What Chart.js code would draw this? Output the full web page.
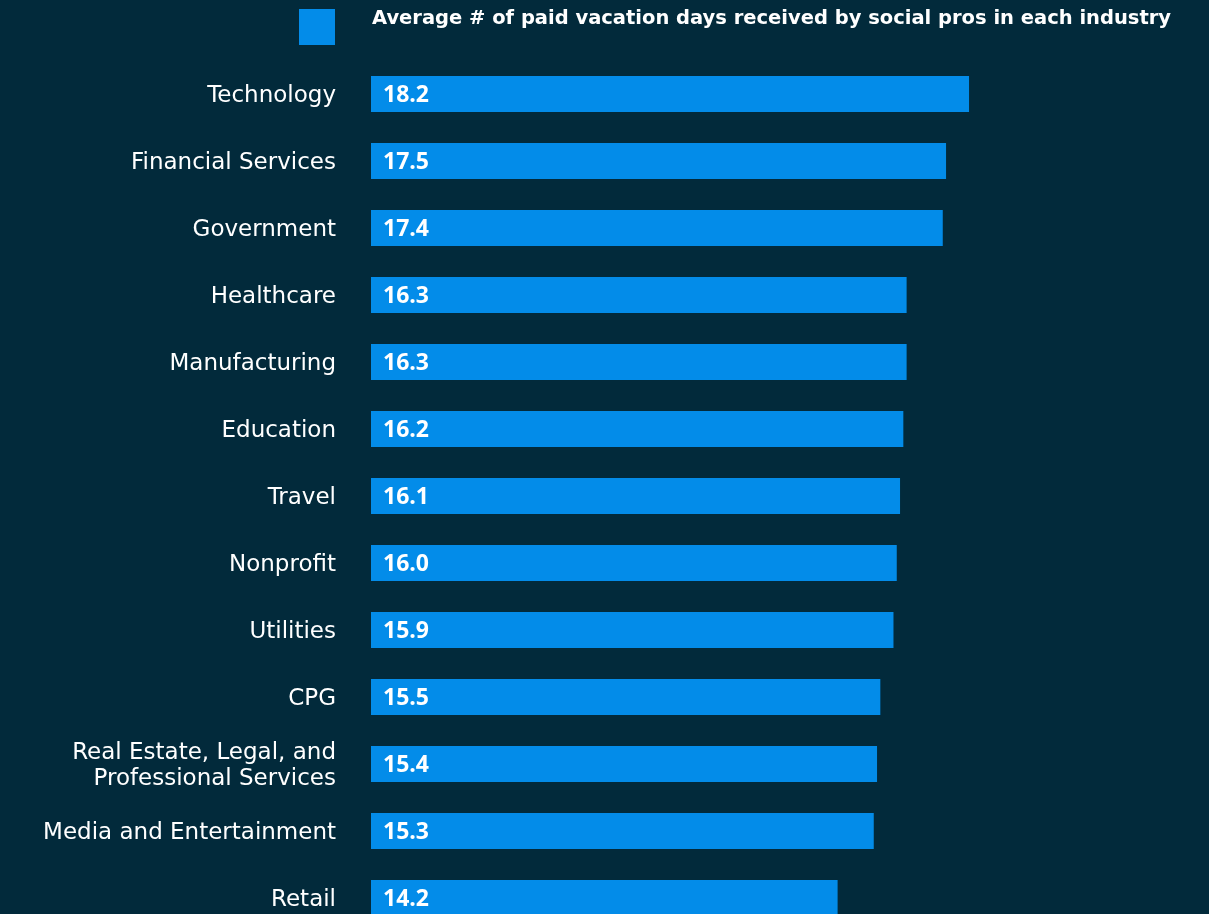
<!DOCTYPE html>
<html>
<head>
<meta charset="utf-8">
<script src="https://cdn.jsdelivr.net/npm/chart.js@4.4.1/dist/chart.umd.min.js"></script>
<style>
    html, body { margin: 0; padding: 0; background: #022a3b; overflow: hidden; }
    canvas { display: block; }
</style>
</head>
<body>
<canvas id="vacation-days-chart" width="1209" height="980"></canvas>
<script>
let industries = [
    'Technology', 'Financial Services', 'Government', 'Healthcare', 'Manufacturing',
    'Education', 'Travel', 'Nonprofit', 'Utilities', 'CPG',
    ['Real Estate, Legal, and', 'Professional Services'],
    'Media and Entertainment', 'Retail'
];
let vacationDays = [18.2, 17.5, 17.4, 16.3, 16.3, 16.2, 16.1, 16.0, 15.9, 15.5, 15.4, 15.3, 14.2];
let seriesLabel = 'Average # of paid vacation days received by social pros in each industry';

let barColor = '#038ce9';
let labelFont = '"DejaVu Sans", sans-serif';
let valueFont = '"Open Sans", sans-serif';

// value text inside the left end of each bar
let valueLabels = {
    id: 'valueLabels',
    afterDatasetsDraw: function (chart) {
        let ctx = chart.ctx;
        let meta = chart.getDatasetMeta(0);
        ctx.save();
        ctx.fillStyle = '#ffffff';
        ctx.font = 'bold 23px ' + valueFont;
        ctx.textAlign = 'left';
        ctx.textBaseline = 'middle';
        meta.data.forEach((bar, i) => {
            ctx.fillText(chart.data.datasets[0].data[i].toFixed(1), bar.base + 12, bar.y + 1);
        });
        ctx.restore();
    }
};

// legend box + caption above the bars
let topLegend = {
    id: 'topLegend',
    afterDraw: function (chart) {
        let ctx = chart.ctx;
        let left = chart.chartArea.left;
        ctx.save();
        ctx.fillStyle = chart.data.datasets[0].backgroundColor;
        ctx.fillRect(left - 72, 9, 36, 36);
        ctx.fillStyle = '#ffffff';
        ctx.font = 'bold 19.5px ' + labelFont;
        ctx.textAlign = 'left';
        ctx.textBaseline = 'middle';
        ctx.fillText(chart.data.datasets[0].label, left + 1, 19);
        ctx.restore();
    }
};

let canvas = document.getElementById('vacation-days-chart');
let context = canvas.getContext('2d');
let config = {
    type: 'bar',
    data: {
        labels: industries,
        datasets: [
            {
                label: seriesLabel,
                data: vacationDays,
                backgroundColor: barColor,
                barPercentage: 0.537,
                categoryPercentage: 1
            }
        ]
    },
    options: {
        indexAxis: 'y',
        responsive: false,
        animation: false,
        layout: {
            padding: { top: 60.5, bottom: 48.5, left: 0, right: 16.5 }
        },
        scales: {
            x: {
                display: false,
                min: 0,
                max: 25
            },
            y: {
                grid: { display: false, drawTicks: false },
                border: { display: false },
                ticks: {
                    color: '#ffffff',
                    padding: 35,
                    labelOffset: 2,
                    font: { family: labelFont, size: 23, lineHeight: 1.13 }
                },
                afterFit: function (scale) {
                    scale.width = 371;
                }
            }
        },
        plugins: {
            legend: { display: false },
            tooltip: { enabled: false }
        }
    },
    plugins: [valueLabels, topLegend]
};
let chart = new Chart(context, config);
</script>
</body>
</html>
